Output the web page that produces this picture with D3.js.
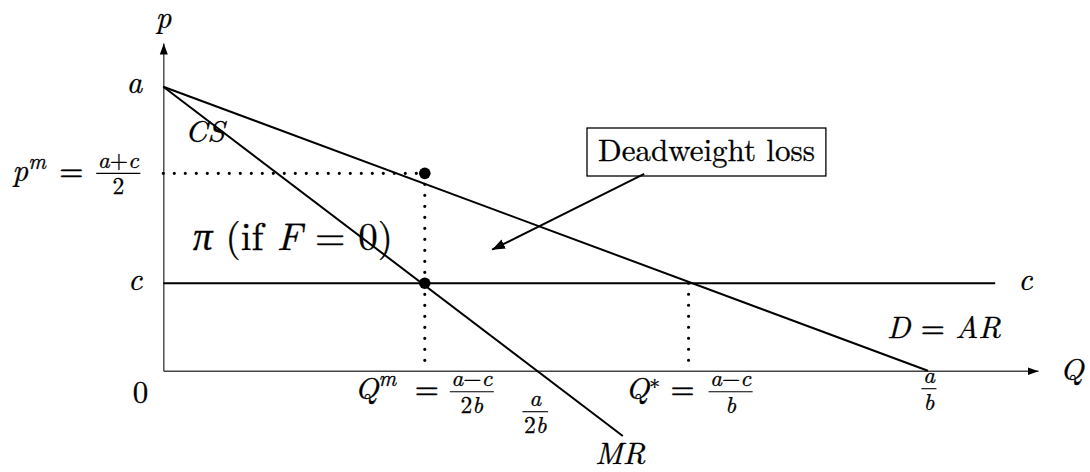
<!DOCTYPE html>
<html>
<head>
<meta charset="utf-8">
<title>Monopoly -- deadweight loss</title>
<script src="https://cdn.jsdelivr.net/npm/d3@7/dist/d3.min.js"></script>
<style>
  body { margin: 0; background: #fff; }
</style>
</head>
<body>
<script>
// a = 10, b = 1
var axisMax = [11.44, 11.54];            // Q, p at the arrow tips
var priceLevels = [10, 6.95, 3.08];      // a, p^m, c
var qLevels = [3.42, 4.89, 6.87, 10];    // Q^m, a/2b, Q*, a/b
var demand = [[0, 10], [10, 0]];
var mr = [[0, 10], [6.01, -2.3]];
var cost = [[0, 3.08], [10.88, 3.08]];
var dots = [[3.42, 6.95], [3.42, 3.08]];
var dwlArrow = [[6.29, 6.93], [4.30, 4.26]];

var FONT = "'Latin Modern Roman', 'Liberation Serif', serif";
var width = 1090, height = 472;
var svg = d3.select("body").append("svg")
    .attr("width", width).attr("height", height);
var defs = svg.append("defs");
function marker(id, len, half, col) {
  defs.append("marker").attr("id", id)
    .attr("markerUnits", "userSpaceOnUse")
    .attr("markerWidth", len + 2).attr("markerHeight", half * 2 + 2)
    .attr("viewBox", "0 " + (-half - 1) + " " + (len + 2) + " " + (half * 2 + 2))
    .attr("refX", len).attr("refY", 0).attr("orient", "auto")
    .append("path").attr("d", "M0," + (-half) + "L" + len + ",0L0," + half + "Z")
    .attr("fill", col);
}
marker("axarrow", 11, 4, "#000");
marker("dwarrow", 13, 5, "#000");

var x = d3.scaleLinear().domain([0, axisMax[0]]).range([163.3, 1038]);
var y = d3.scaleLinear().domain([0, axisMax[1]]).range([370.7, 43]);

svg.append("g").attr("transform", "translate(0," + y(0) + ")")
    .call(d3.axisBottom(x).tickValues([]).tickSizeOuter(0));
svg.append("g").attr("transform", "translate(" + x(0) + ",0)")
    .call(d3.axisLeft(y).tickValues([]).tickSizeOuter(0));
svg.selectAll(".domain")
    .attr("stroke", "#444").attr("stroke-width", 1.4)
    .attr("marker-end", "url(#axarrow)");

var line = d3.line().x(function(d) { return x(d[0]); }).y(function(d) { return y(d[1]); });

// dotted guides
var guides = [
  [[0, priceLevels[1]], [qLevels[0], priceLevels[1]]],
  [[qLevels[0], priceLevels[1]], [qLevels[0], 0]],
  [[qLevels[2], priceLevels[2]], [qLevels[2], 0]]
];
svg.selectAll("path.guide").data(guides).enter().append("path")
    .attr("class", "guide").attr("d", line)
    .attr("fill", "none").attr("stroke", "#000").attr("stroke-width", 3.2)
    .attr("stroke-linecap", "round").attr("stroke-dasharray", "0,11");

svg.selectAll("path.curve").data([demand, mr, cost]).enter().append("path")
    .attr("class", "curve").attr("d", line)
    .attr("fill", "none").attr("stroke", "#000").attr("stroke-width", 2);

svg.selectAll("circle").data(dots).enter().append("circle")
    .attr("cx", function(d) { return x(d[0]); })
    .attr("cy", function(d) { return y(d[1]); })
    .attr("r", 5.8).attr("fill", "#000");

// labels: parts are [text, italic, raise (em), size factor]
var g = svg.append("g");
function addParts(t, parts, size) {
  var shift = 0;
  parts.forEach(function(p) {
    var s = t.append("tspan").text(p[0])
        .attr("font-style", p[1] ? "italic" : "normal");
    var want = -(p[2] || 0) * size;
    if (want !== shift) { s.attr("dy", want - shift); shift = want; }
    if (p[3]) s.attr("font-size", size * p[3]);
  });
}
function label(x0, y0, parts, size, anchor) {
  var t = g.append("text").attr("x", x0).attr("y", y0)
      .attr("font-family", FONT).style("white-space", "pre")
      .attr("fill", "#000").attr("stroke", "#000").attr("stroke-width", 0.3)
      .attr("font-size", size).attr("text-anchor", anchor || "start");
  addParts(t, parts, size);
  return t;
}
function frac(cx, barY, num, den, size) {
  var n = label(cx, barY - 5.5, num, size, "middle");
  var d = label(cx, barY + size * 0.9, den, size, "middle");
  var w = Math.max(n.node().getComputedTextLength(), d.node().getComputedTextLength()) + 3;
  g.append("line").attr("x1", cx - w / 2).attr("x2", cx + w / 2)
      .attr("y1", barY).attr("y2", barY)
      .attr("stroke", "#000").attr("stroke-width", 1.1);
}
var fs = 31, fr = 23.5;
var SUP = 0.4, SM = 0.7;

label(x(0), 28, [["p", true]], fs, "middle");
label(x(axisMax[0]) + 22, y(0) + 9, [["Q", true]], fs);
label(x(0) - 21, y(priceLevels[0]) + 6, [["a", true]], fs, "end");
label(x(0) - 21, y(priceLevels[2]) + 7, [["c", true]], fs, "end");
label(x(0) - 15, y(0) + 32, [["0", false]], fs, "end");
label(x(cost[1][0]) + 23, y(priceLevels[2]) + 7, [["c", true]], fs);

// p^m = (a+c)/2
label(x(0) - 151, y(priceLevels[1]) + 8, [["p", true], ["m", true, SUP, SM]], fs);
label(x(0) - 92, y(priceLevels[1]) + 8, [["=", false]], fs, "middle");
frac(x(0) - 45, y(priceLevels[1]), [["a", true], ["+", false], ["c", true]], [["2", false]], fr);

// Q^m = (a-c)/2b
label(x(qLevels[0]) - 70, y(0) + 28, [["Q", true], ["m", true, SUP, SM]], fs);
label(x(qLevels[0]) + 2, y(0) + 28, [["=", false]], fs, "middle");
frac(x(qLevels[0]) + 47, y(0) + 21, [["a", true], ["\u2212", false], ["c", true]], [["2", false], ["b", true]], fr);

// a/2b
frac(x(qLevels[1]) - 2, y(0) + 41, [["a", true]], [["2", false], ["b", true]], fr);

// Q* = (a-c)/b
label(x(qLevels[2]) - 63, y(0) + 28, [["Q", true], ["\u2217", false, 0.3, SM]], fs);
label(x(qLevels[2]) - 6, y(0) + 28, [["=", false]], fs, "middle");
frac(x(qLevels[2]) + 42, y(0) + 21, [["a", true], ["\u2212", false], ["c", true]], [["b", true]], fr);

// a/b
frac(x(qLevels[3]) + 1, y(0) + 18, [["a", true]], [["b", true]], fr);

label(595, 464, [["MR", true]], fs);
label(887, 338, [["D", true], [" = ", false], ["AR", true]], fs);
label(185, 142, [["CS", true]], fs);
label(193, 250, [["\u03c0", true], [" (if ", false], ["F", true], [" = 0)", false]], 39);

// deadweight loss callout
var dw = label(598, 161, [["Deadweight loss", false]], 31);
var bb = dw.node().getBBox();
g.insert("rect", "text").attr("x", 587).attr("y", 128)
    .attr("width", bb.width + 22).attr("height", 48)
    .attr("fill", "#fff").attr("stroke", "#000").attr("stroke-width", 1.3);
svg.append("path").attr("d", line(dwlArrow))
    .attr("fill", "none").attr("stroke", "#000").attr("stroke-width", 2)
    .attr("marker-end", "url(#dwarrow)");
</script>
</body>
</html>
